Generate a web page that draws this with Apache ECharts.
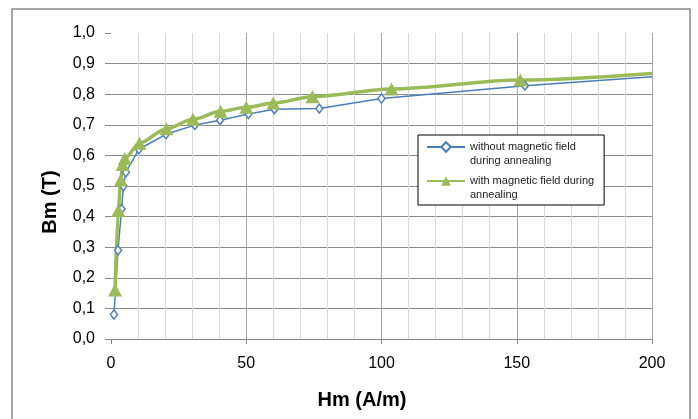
<!DOCTYPE html>
<html>
<head>
<meta charset="utf-8">
<script src="https://cdn.jsdelivr.net/npm/echarts@6/dist/echarts.min.js"></script>
<style>html,body{margin:0;padding:0;background:#fff;}#c{width:698px;height:419px;}</style>
</head>
<body>
<div id="c"></div>
<script>
// Data
var hmWithout = [1.1, 2.6, 3.9, 4.6, 5.5, 10.3, 20.3, 31, 40.3, 50.8, 60.4, 77, 100, 153, 200];
var bmWithout = [0.08, 0.29, 0.425, 0.50, 0.545, 0.62, 0.669, 0.699, 0.715, 0.735, 0.751, 0.753, 0.786, 0.828, 0.857];
var hmWith = [1.5, 2.7, 3.6, 4.3, 5.1, 10.5, 20.5, 30.3, 40.5, 50, 60, 74.5, 103.7, 151.3, 200];
var bmWith = [0.16, 0.42, 0.52, 0.57, 0.59, 0.64, 0.687, 0.718, 0.744, 0.757, 0.771, 0.792, 0.817, 0.846, 0.868];
var seriesNames = ['without magnetic field\nduring annealing', 'with magnetic field during\nannealing'];
var xTitle = 'Hm (A/m)';
var yTitle = 'Bm (T)';

function pairs(xs, ys) {
  return xs.map(function (x, i) {
    var item = { value: [x, ys[i]] };
    if (i === xs.length - 1) item.symbol = 'none';
    return item;
  });
}

var font = 'Liberation Sans, Arial, sans-serif';
var chart = echarts.init(document.getElementById('c'));
chart.setOption({
  animation: false,
  backgroundColor: '#fff',
  grid: { left: 111, right: 46, top: 33, bottom: 80 },
  graphic: [
    { type: 'rect', shape: { x: 12, y: 9, width: 678, height: 430 },
      style: { fill: 'none', stroke: '#8a8a8a', lineWidth: 1.5 }, silent: true },
    { type: 'text', x: 362, y: 400,
      style: { text: xTitle, font: 'bold 20px ' + font, fill: '#000', textAlign: 'center', textVerticalAlign: 'middle' } },
    { type: 'text', x: 50, y: 202, rotation: Math.PI / 2,
      style: { text: yTitle, font: 'bold 20px ' + font, fill: '#000', textAlign: 'center', textVerticalAlign: 'middle' } }
  ],
  legend: {
    orient: 'vertical',
    left: 418, top: 135,
    padding: [-9, 10, 3, 8],
    itemGap: -8,
    itemWidth: 38, itemHeight: 12,
    borderColor: '#000', borderWidth: 1,
    backgroundColor: '#fff',
    formatter: function (name) { return '\n' + name; },
    textStyle: { fontFamily: font, fontSize: 11, color: '#222', lineHeight: 14 },
    data: seriesNames
  },
  xAxis: {
    type: 'value', min: 0, max: 200, interval: 50,
    axisLine: { show: true, lineStyle: { color: '#888', width: 1 } },
    axisTick: { show: true, length: 5, lineStyle: { color: '#888' } },
    axisLabel: { fontFamily: font, fontSize: 16, color: '#000', margin: 17 },
    splitLine: { show: true, showMinLine: false, lineStyle: { color: '#a6a6a6', width: 1 } },
    minorTick: { show: false, splitNumber: 5 },
    minorSplitLine: { show: true, lineStyle: { color: '#d9d9d9', width: 1 } }
  },
  yAxis: {
    type: 'value', min: 0, max: 1, interval: 0.1,
    axisLine: { show: false },
    axisTick: { show: true, length: 6, lineStyle: { color: '#888' } },
    axisLabel: { fontFamily: font, fontSize: 16, color: '#000', margin: 16,
      formatter: function (v) { return v.toFixed(1).replace('.', ','); } },
    splitLine: { show: true, showMaxLine: false, lineStyle: { color: '#8c8c8c', width: 1 } }
  },
  series: [
    {
      name: seriesNames[0], type: 'line',
      data: pairs(hmWithout, bmWithout),
      symbol: 'diamond', symbolSize: [7, 9],
      lineStyle: { color: '#4a7ebb', width: 1.5 },
      itemStyle: { color: '#ffffff', borderColor: '#4a7ebb', borderWidth: 1.5 },
      smooth: false
    },
    {
      name: seriesNames[1], type: 'line',
      data: pairs(hmWith, bmWith),
      symbol: 'triangle', symbolSize: [14, 13],
      lineStyle: { color: '#9bbb59', width: 3.5 },
      itemStyle: { color: '#9bbb59' },
      smooth: 0.3, smoothMonotone: 'x'
    }
  ]
});
</script>
</body>
</html>
